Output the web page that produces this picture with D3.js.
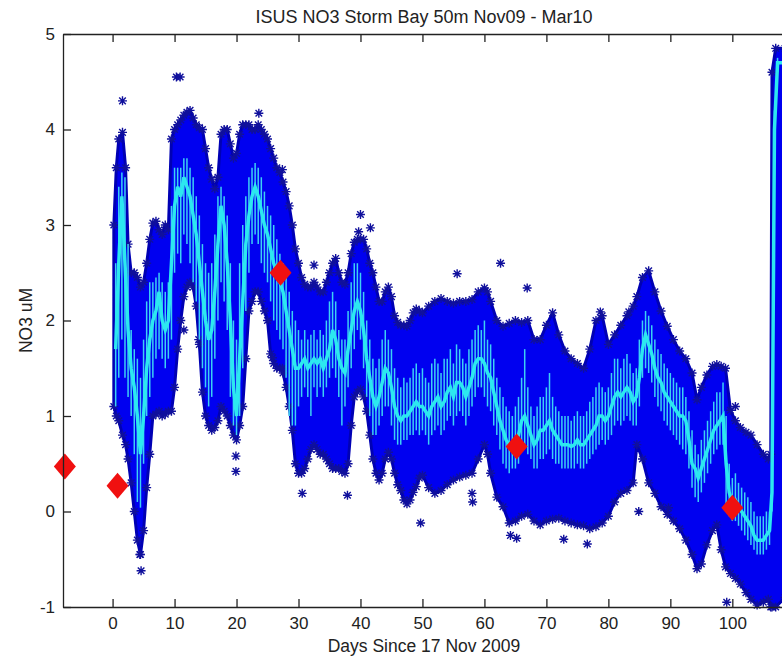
<!DOCTYPE html>
<html>
<head>
<meta charset="utf-8">
<script src="https://cdn.jsdelivr.net/npm/d3@7"></script>
<style>
  body { margin: 0; background: #fff; }
  #chart { width: 782px; height: 657px; }
  text { font-family: "Liberation Sans", Arial, sans-serif; fill: #222; }
</style>
</head>
<body>
<div id="chart"></div>
<script>
// envelope of the blue asterisk cloud (days since 17 Nov 2009, NO3 uM)
const bandDays = [0.2,0.6,1.0,1.6,2.1,2.5,3.0,3.5,4.0,4.5,5.0,5.5,6.0,6.5,7.0,7.5,8.0,8.5,9.0,9.5,
  10.0,10.5,11.0,11.5,12.0,12.5,13.0,13.5,14.0,14.5,15.0,15.5,16.0,16.5,17.0,17.5,18.0,18.5,19.0,19.5,
  20.0,20.5,21.0,21.5,22.0,22.5,23.0,23.5,24.0,24.5,25.0,25.5,26.0,26.5,27.0,27.5,28.0,28.5,29.0,29.5,
  30.0,30.5,31.0,31.5,32.0,32.5,33.0,33.5,34.0,34.5,35.0,35.5,36.0,36.5,37.0,37.5,38.0,38.5,39.0,39.5,
  40.0,40.5,41.0,41.5,42.0,42.5,43.0,43.5,44.0,44.5,45.0,45.5,46.0,46.5,47.0,47.5,48.0,48.5,49.0,49.5,
  50,51,52,53,54,55,56,57,58,59,60,60.5,61,62,63,64,65,66,67,68,69,70,71,72,73,74,75,76,77,78,79,80,
  81,82,83,84,84.6,85.5,86.5,87.5,88.5,89.5,90.5,91.5,92.5,93.5,94.3,95.0,95.9,96.8,97.5,98.2,98.9,
  99.7,100.5,101.3,102.2,103.0,104.0,105.0,105.8,106.2,106.4,107.0,108.5];
const bandUpper = [3.0,3.6,3.9,3.97,3.6,2.8,2.5,2.5,2.45,2.35,2.4,2.6,2.85,3.02,3.04,2.95,2.9,3.0,2.95,3.9,
  4.0,4.05,4.1,4.15,4.18,4.2,4.12,4.05,4.02,4.0,3.8,3.6,3.48,3.38,3.5,3.95,4.0,4.0,3.85,3.7,
  3.75,3.95,4.05,4.05,4.05,4.0,4.0,4.05,4.0,3.95,3.9,3.8,3.7,3.6,3.55,3.45,3.35,3.2,3.0,2.75,
  2.6,2.45,2.38,2.35,2.35,2.4,2.35,2.3,2.3,2.4,2.5,2.6,2.65,2.5,2.4,2.38,2.5,2.7,2.82,2.85,
  2.85,2.85,2.75,2.6,2.5,2.35,2.2,2.2,2.3,2.35,2.25,2.05,1.98,1.95,1.95,1.94,2.0,2.08,2.12,2.1,
  2.08,2.15,2.2,2.23,2.2,2.18,2.2,2.2,2.22,2.3,2.34,2.3,2.2,2.0,1.94,1.97,2.0,1.98,2.0,1.8,1.8,1.95,2.08,1.85,1.68,1.6,1.55,1.5,1.7,2.0,2.05,1.75,
  1.85,1.95,2.05,2.15,2.25,2.45,2.52,2.3,2.1,1.94,1.8,1.68,1.6,1.45,1.17,1.3,1.43,1.52,1.54,1.52,1.5,
  1.06,0.95,0.88,0.83,0.8,0.7,0.6,0.55,0.6,4.6,4.85,4.85];
const bandLower = [1.1,1.0,0.95,0.8,0.7,0.55,0.3,0.0,-0.3,-0.45,-0.2,0.25,0.6,1.0,1.02,1.05,1.0,1.02,1.05,1.05,
  1.3,1.7,2.0,2.25,2.35,2.4,2.35,2.15,1.75,1.25,1.0,0.9,0.85,0.88,0.95,1.1,1.05,1.0,0.9,0.8,
  0.75,0.9,1.1,1.6,2.1,2.2,2.3,2.3,2.2,2.1,2.0,1.65,1.55,1.5,1.5,1.45,1.3,1.1,0.85,0.5,
  0.4,0.4,0.45,0.55,0.65,0.7,0.65,0.6,0.6,0.55,0.5,0.45,0.45,0.45,0.42,0.4,0.5,0.9,1.2,1.25,
  1.28,1.2,1.05,0.8,0.55,0.4,0.33,0.4,0.55,0.62,0.55,0.4,0.28,0.22,0.12,0.08,0.12,0.2,0.26,0.35,
  0.38,0.25,0.19,0.22,0.28,0.33,0.36,0.38,0.4,0.55,0.7,0.6,0.4,0.15,0.05,-0.12,-0.1,-0.05,-0.03,-0.1,-0.14,-0.1,-0.08,-0.07,-0.1,-0.12,-0.14,-0.15,-0.18,-0.16,-0.12,-0.05,
  0.1,0.19,0.22,0.3,0.7,0.55,0.3,0.19,0.05,-0.03,-0.1,-0.18,-0.3,-0.45,-0.6,-0.55,-0.35,-0.2,-0.14,-0.4,-0.58,
  -0.65,-0.7,-0.76,-0.85,-0.92,-0.98,-0.95,-0.92,-1.0,-1.0,-1.0,-0.9];

// cyan running line: centre and spike extents
const cyanDays = [0.5,1.0,1.5,2.0,2.5,3.0,3.5,4.0,4.5,5.0,5.5,6.0,6.5,7.0,7.5,8.0,8.5,9.0,9.5,
  10.0,10.5,11.0,11.5,12.0,12.5,13.0,13.5,14.0,14.5,15.0,15.5,16.0,16.5,17.0,17.5,18.0,18.5,19.0,19.5,
  20.0,20.5,21.0,21.5,22.0,22.5,23.0,23.5,24.0,24.5,25.0,25.5,26.0,26.5,27.0,27.5,28.0,28.5,29.0,29.5,
  30.0,30.5,31.0,31.5,32.0,32.5,33.0,33.5,34.0,34.5,35.0,35.5,36.0,36.5,37.0,37.5,38.0,38.5,39.0,39.5,
  40.0,40.5,41.0,41.5,42.0,42.5,43.0,43.5,44.0,44.5,45.0,45.5,46.0,46.5,47.0,47.5,48.0,48.5,49.0,49.5,
  50.0,50.5,51.0,51.5,52.0,52.5,53.0,53.5,54.0,54.5,55.0,55.5,56.0,56.5,57.0,57.5,58.0,58.5,59.0,59.5,
  60.0,60.5,61.0,61.5,62.0,62.5,63.0,63.5,64.0,64.5,65.0,65.5,66.0,66.5,67.0,67.5,68.0,68.5,69.0,69.5,
  70.0,70.5,71.0,71.5,72.0,72.5,73.0,73.5,74.0,74.5,75.0,75.5,76.0,76.5,77.0,77.5,78.0,78.5,79.0,79.5,
  80.0,80.5,81.0,81.5,82.0,82.5,83.0,83.5,84.0,84.5,85.0,85.5,86.0,86.5,87.0,87.5,88.0,88.5,89.0,89.5,
  90.0,90.5,91.0,91.5,92.0,92.5,93.0,93.5,94.0,94.5,95.0,95.5,96.0,96.5,97.0,97.5,98.0,98.5,99.0,99.5,
  100.0,100.5,101.0,101.5,102.0,102.5,103.0,103.5,104.0,104.5,105.0,105.5,106.0,106.4,106.8,107.3,108.5];
const cyanNO3 = [1.7,2.6,3.3,2.6,1.9,1.5,1.3,1.0,0.6,1.0,1.5,1.8,2.0,2.1,2.3,2.0,1.9,2.0,2.6,
  3.2,3.4,3.3,3.5,3.4,3.3,3.1,2.9,2.6,2.3,2.0,1.8,1.9,2.3,2.8,3.2,3.0,2.6,2.0,1.3,
  1.0,1.6,2.2,2.8,3.1,3.3,3.4,3.3,3.15,3.0,2.9,2.75,2.6,2.5,2.4,2.3,2.1,1.9,1.7,1.5,
  1.5,1.55,1.6,1.5,1.55,1.6,1.55,1.6,1.5,1.6,1.7,1.9,1.8,1.6,1.5,1.45,1.7,1.9,2.1,2.2,
  2.1,1.9,1.6,1.4,1.2,1.1,1.2,1.35,1.5,1.45,1.3,1.1,1.0,0.95,1.0,1.0,1.05,1.1,1.15,1.1,
  1.1,1.05,1.0,1.1,1.15,1.2,1.1,1.15,1.25,1.3,1.2,1.35,1.35,1.3,1.2,1.3,1.4,1.55,1.6,1.6,
  1.55,1.45,1.4,1.25,1.1,0.95,0.85,0.75,0.7,0.7,0.75,0.8,0.95,1.0,0.9,0.8,0.7,0.75,0.85,0.85,
  0.9,0.95,0.85,0.8,0.75,0.7,0.7,0.7,0.68,0.7,0.75,0.7,0.7,0.75,0.8,0.85,0.9,1.0,1.0,0.95,
  1.0,1.1,1.2,1.25,1.2,1.25,1.3,1.25,1.15,1.2,1.4,1.7,1.85,1.75,1.65,1.5,1.4,1.35,1.25,1.2,
  1.15,1.1,1.05,1.0,1.0,0.95,0.75,0.5,0.45,0.35,0.45,0.55,0.65,0.75,0.85,0.9,0.95,1.0,0.5,0.2,
  0.1,0.12,0.05,0.0,-0.05,-0.1,-0.15,-0.25,-0.3,-0.3,-0.3,-0.25,-0.2,0.2,4.0,4.7,4.7];
const cyanHi = [2.6,3.4,3.55,3.5,2.8,1.9,1.7,1.6,1.4,1.8,2.2,2.4,2.4,2.45,2.5,2.4,2.3,2.4,3.2,
  3.6,3.6,3.6,3.7,3.7,3.6,3.5,3.3,3.1,2.8,2.6,2.5,2.6,2.9,3.3,3.4,3.3,3.1,2.6,2.0,
  1.8,2.6,3.0,3.3,3.5,3.6,3.65,3.6,3.5,3.35,3.2,3.1,3.0,2.85,2.7,2.6,2.5,2.3,2.1,2.0,
  1.9,1.8,1.9,1.8,1.85,1.9,1.8,1.9,1.85,2.0,2.2,2.3,2.2,1.9,1.8,1.8,2.1,2.4,2.6,2.6,
  2.5,2.3,2.0,1.8,1.6,1.5,1.6,1.8,1.9,1.8,1.7,1.5,1.4,1.3,1.4,1.35,1.4,1.5,1.55,1.45,
  1.5,1.4,1.35,1.55,1.6,1.55,1.45,1.6,1.6,1.7,1.55,1.75,1.7,1.6,1.55,1.7,1.8,1.9,1.95,1.9,
  2.0,1.8,1.75,1.6,1.4,1.3,1.2,1.1,1.05,1.0,1.1,1.2,1.4,1.7,1.3,1.1,1.0,1.1,1.2,1.2,
  1.3,1.45,1.2,1.1,1.05,1.0,1.0,1.0,0.95,1.0,1.05,1.0,1.0,1.05,1.15,1.2,1.3,1.35,1.3,1.25,
  1.3,1.45,1.6,1.6,1.5,1.6,1.65,1.55,1.45,1.5,1.8,2.0,2.1,2.05,1.95,1.8,1.7,1.65,1.55,1.5,
  1.45,1.4,1.35,1.3,1.3,1.2,1.05,0.85,0.7,0.6,0.75,0.85,0.95,1.05,1.15,1.25,1.25,1.35,1.0,0.5,
  0.35,0.4,0.3,0.25,0.2,0.15,0.1,0.0,-0.05,-0.05,-0.05,0.0,0.0,0.4,4.2,4.75,4.75];
const cyanLo = [1.1,1.4,1.8,1.4,1.2,1.0,0.6,0.1,0.04,0.5,1.0,1.2,1.4,1.6,1.7,1.6,1.5,1.6,1.8,
  2.5,2.7,2.6,2.9,2.8,2.6,2.4,2.2,1.8,1.5,1.3,1.1,1.2,1.6,2.0,2.4,2.2,1.9,1.2,0.9,
  0.8,1.0,1.5,2.1,2.5,2.8,2.9,2.8,2.6,2.5,2.4,2.2,2.0,1.9,1.8,1.7,1.4,1.0,0.9,0.9,
  1.1,1.2,1.3,1.2,1.0,1.3,1.2,1.3,1.2,1.3,1.4,1.5,1.4,1.2,0.9,1.1,1.3,1.5,1.7,1.9,
  1.8,1.5,1.2,1.0,0.8,0.8,0.9,1.0,1.1,1.1,0.9,0.75,0.7,0.7,0.75,0.75,0.8,0.8,0.85,0.8,
  0.85,0.8,0.7,0.8,0.85,0.9,0.8,0.85,0.95,1.0,0.9,1.0,1.05,1.0,0.9,1.0,1.1,1.2,1.3,1.3,
  1.2,1.1,1.05,0.9,0.8,0.65,0.5,0.45,0.4,0.45,0.45,0.5,0.65,0.7,0.6,0.55,0.45,0.45,0.55,0.55,
  0.6,0.65,0.55,0.5,0.5,0.45,0.45,0.45,0.45,0.45,0.5,0.45,0.45,0.5,0.55,0.6,0.65,0.7,0.75,0.7,
  0.75,0.8,0.9,0.95,0.9,0.95,1.0,0.95,0.9,0.9,1.1,1.4,1.5,1.45,1.35,1.2,1.1,1.05,0.95,0.9,
  0.85,0.8,0.75,0.7,0.65,0.6,0.45,0.25,0.15,0.1,0.2,0.3,0.4,0.5,0.6,0.65,0.7,0.7,0.0,-0.05,
  -0.1,-0.1,-0.15,-0.2,-0.25,-0.3,-0.35,-0.4,-0.45,-0.45,-0.45,-0.4,-0.35,0.0,3.8,4.6,4.6];

// isolated asterisks outside the cloud
const outDays = [1.6,10.3,10.9,4.4,4.6,19.9,19.9,11.5,13.9,23.6,27.4,25.8,27.4,32.5,39.7,40.0,41.6,
  30.6,37.9,49.7,55.6,62.6,66.9,58.0,58.1,64.2,65.2,72.8,76.6,84.9,89.7,99.1,100.5,78.7,83.3];
const outNO3 = [4.3,4.55,4.55,-0.45,-0.62,0.58,0.42,1.9,1.8,4.17,3.58,1.61,1.5,2.58,2.93,3.11,2.97,
  0.19,0.17,-0.12,2.49,2.6,2.34,0.19,0.1,-0.25,-0.28,-0.29,-0.34,0.0,0.04,-0.95,1.1,2.09,2.09];

// red diamonds (bottle samples)
const sampleDays = [-7.7, 0.8, 27.1, 65.2, 100.0];
const sampleNO3 = [0.47, 0.27, 2.5, 0.68, 0.04];

const xTicks = [0,10,20,30,40,50,60,70,80,90,100];
const yTicks = [-1,0,1,2,3,4,5];

const width = 782, height = 657;
const margin = {top: 34, left: 63, right: -3, bottom: 50};

const svg = d3.select("#chart").append("svg")
    .attr("width", width)
    .attr("height", height);

const xScale = d3.scaleLinear()
    .domain([-8, 108.5])
    .range([margin.left, width - margin.right]);

const yScale = d3.scaleLinear()
    .domain([-1, 5])
    .range([height - margin.bottom, margin.top]);

const band = bandDays.map((d, i) => ({day: d, hi: bandUpper[i], lo: bandLower[i]}));
const cyan = cyanDays.map((d, i) => ({day: d, v: cyanNO3[i], hi: cyanHi[i], lo: cyanLo[i]}));
const outliers = outDays.map((d, i) => ({day: d, v: outNO3[i]}));
const samples = sampleDays.map((d, i) => ({day: d, v: sampleNO3[i]}));

// asterisk marker like matlab '*'
const star = "M-4.5,0H4.5M0,-4.5V4.5M-3.3,-3.3L3.3,3.3M-3.3,3.3L3.3,-3.3";

// blue cloud
svg.append("path")
    .datum(band)
    .attr("d", d3.area()
        .x(d => xScale(d.day))
        .y0(d => yScale(d.lo))
        .y1(d => yScale(d.hi)))
    .attr("fill", "#0000f0")
    .attr("stroke", "#0000b4")
    .attr("stroke-width", 3)
    .attr("stroke-linejoin", "round");

const edgePts = band.flatMap(d => [{day: d.day, v: d.hi}, {day: d.day, v: d.lo}]);
svg.append("g").selectAll("path")
    .data(edgePts.concat(outliers))
    .enter().append("path")
    .attr("transform", d => `translate(${xScale(d.day)},${yScale(d.v)})`)
    .attr("d", star)
    .attr("stroke", "#10109c")
    .attr("stroke-width", 1.4)
    .attr("fill", "none");

// cyan spikes
svg.append("g").selectAll("line")
    .data(cyan)
    .enter().append("line")
    .attr("x1", d => xScale(d.day))
    .attr("x2", d => xScale(d.day))
    .attr("y1", d => yScale(d.lo))
    .attr("y2", d => yScale(d.hi))
    .attr("stroke", "#3cd0f4")
    .attr("stroke-width", 1.5);

// cyan line
svg.append("path")
    .datum(cyan)
    .attr("d", d3.line().x(d => xScale(d.day)).y(d => yScale(d.v)))
    .attr("fill", "none")
    .attr("stroke", "#2ce8f0")
    .attr("stroke-width", 3.5)
    .attr("stroke-linejoin", "miter");

// red diamonds
svg.append("g").selectAll("path")
    .data(samples)
    .enter().append("path")
    .attr("transform", d => `translate(${xScale(d.day)},${yScale(d.v)})`)
    .attr("d", "M0,-13L11,0L0,13L-11,0Z")
    .attr("fill", "#f01010");

// axes, ticks inside like matlab
const axisStyle = g => {
    g.selectAll("path.domain").attr("stroke", "#222").attr("stroke-width", 1.3);
    g.selectAll(".tick line").attr("stroke", "#222").attr("stroke-width", 1.3);
    g.selectAll("text").attr("font-size", 17).attr("fill", "#222")
        .attr("font-family", "'Liberation Sans', Arial, sans-serif");
};
const fmt = d => String(d);

svg.append("g")
    .attr("transform", `translate(0,${height - margin.bottom})`)
    .call(d3.axisBottom(xScale).tickValues(xTicks).tickFormat(fmt).tickSizeInner(-8).tickSizeOuter(0).tickPadding(10))
    .call(axisStyle);

svg.append("g")
    .attr("transform", `translate(0,${margin.top})`)
    .call(d3.axisTop(xScale).tickValues(xTicks).tickSizeInner(-8).tickSizeOuter(0).tickFormat(""))
    .call(axisStyle);

svg.append("g")
    .attr("transform", `translate(${margin.left},0)`)
    .call(d3.axisLeft(yScale).tickValues(yTicks).tickFormat(fmt).tickSizeInner(-8).tickSizeOuter(0).tickPadding(8))
    .call(axisStyle);

// labels
svg.append("text")
    .attr("x", (margin.left + width - margin.right) / 2)
    .attr("y", 23)
    .attr("text-anchor", "middle")
    .attr("font-size", 18)
    .text("ISUS NO3 Storm Bay 50m Nov09 - Mar10");

svg.append("text")
    .attr("x", (margin.left + width - margin.right) / 2)
    .attr("y", 652)
    .attr("text-anchor", "middle")
    .attr("font-size", 17.5)
    .text("Days Since 17 Nov 2009");

svg.append("text")
    .attr("transform", "rotate(-90)")
    .attr("x", -(margin.top + height - margin.bottom) / 2)
    .attr("y", 32)
    .attr("text-anchor", "middle")
    .attr("font-size", 17.5)
    .text("NO3 uM");
</script>
</body>
</html>
